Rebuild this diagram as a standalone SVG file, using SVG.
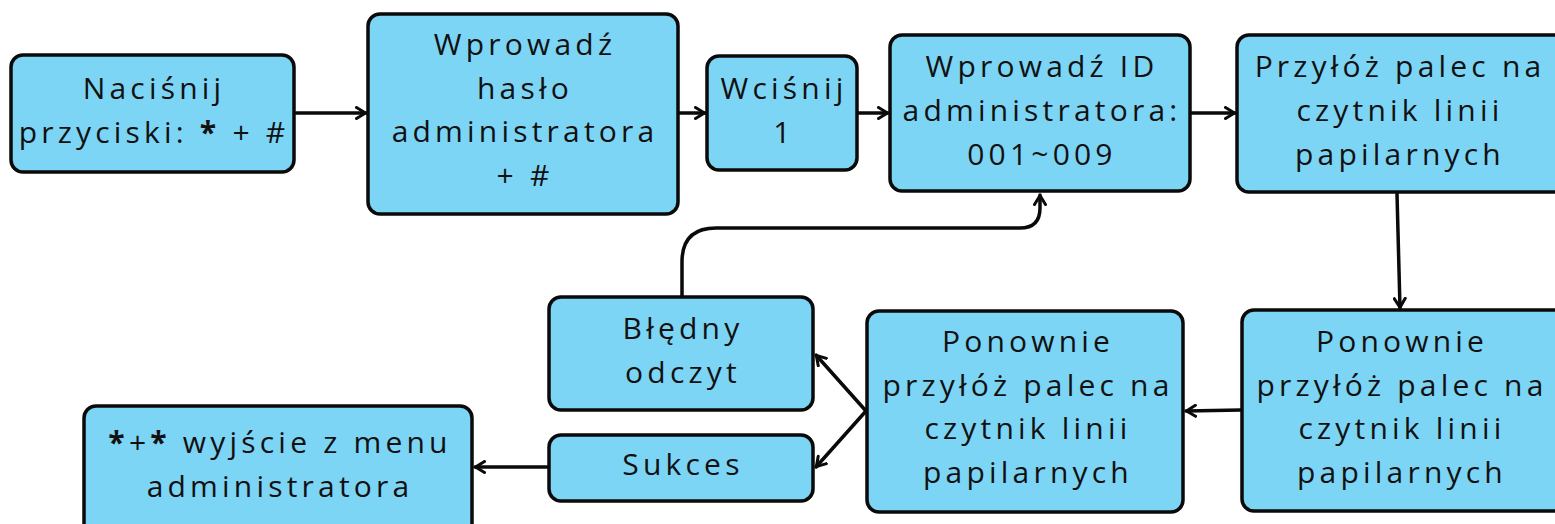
<svg xmlns="http://www.w3.org/2000/svg" width="1555" height="524" viewBox="0 0 1555 524">
<style>
.box{fill:#7dd5f5;stroke:#0a0a0a;stroke-width:3.5}
.t{font-family:"Open Sans","DejaVu Sans",sans-serif;font-size:30px;fill:#111;text-anchor:middle;letter-spacing:4.2px}
.b{font-weight:700}
.c{fill:none;stroke:#0a0a0a;stroke-width:3.5;stroke-linecap:round;stroke-linejoin:round}
</style>
<defs>
<marker id="ah" viewBox="0 0 12 14" refX="11" refY="7" markerWidth="12" markerHeight="14" markerUnits="userSpaceOnUse" orient="auto">
<path d="M1.5,1.5 L10.5,7 L1.5,12.5" fill="none" stroke="#0a0a0a" stroke-width="3" stroke-linecap="round" stroke-linejoin="round"/>
</marker>
</defs>
<rect width="1555" height="524" fill="#fff"/>
<g id="connectors">
<path class="c" d="M296,113 H366" marker-end="url(#ah)"/>
<path class="c" d="M679,113 H705" marker-end="url(#ah)"/>
<path class="c" d="M858,113 H888" marker-end="url(#ah)"/>
<path class="c" d="M1191,113 H1235" marker-end="url(#ah)"/>
<path class="c" d="M1397,194 L1400,308" marker-end="url(#ah)"/>
<path class="c" d="M1241,410 L1186,411" marker-end="url(#ah)"/>
<path class="c" d="M866,411 L816,355" marker-end="url(#ah)"/>
<path class="c" d="M866,411 L816,467" marker-end="url(#ah)"/>
<path class="c" d="M548,467 H475" marker-end="url(#ah)"/>
<path class="c" d="M682,296 V262 Q682,228 716,228 H1020 Q1040,228 1040,208 V195" marker-end="url(#ah)"/>
</g>
<g id="n1"><rect class="box" x="11" y="55" width="283" height="117" rx="12"/>
<text class="t" x="154" y="99">Naciśnij</text><text class="t" x="154" y="143">przyciski: <tspan class="b">*</tspan> + #</text></g>
<g id="n2"><rect class="box" x="368" y="14" width="310" height="200" rx="12"/>
<text class="t" x="525" y="55">Wprowadź</text><text class="t" x="525" y="99">hasło</text><text class="t" x="525" y="142">administratora</text><text class="t" x="525" y="186">+ #</text></g>
<g id="n3"><rect class="box" x="707" y="56" width="150" height="114" rx="12"/>
<text class="t" x="784" y="99">Wciśnij</text><text class="t" x="784" y="143">1</text></g>
<g id="n4"><rect class="box" x="890" y="35" width="300" height="156" rx="12"/>
<text class="t" x="1042" y="77">Wprowadź ID</text><text class="t" x="1042" y="121">administratora:</text><text class="t" x="1042" y="165">001~009</text></g>
<g id="n5"><rect class="box" x="1237" y="35" width="330" height="157" rx="12"/>
<text class="t" x="1400" y="77">Przyłóż palec na</text><text class="t" x="1400" y="121">czytnik linii</text><text class="t" x="1400" y="165">papilarnych</text></g>
<g id="n6"><rect class="box" x="1242" y="310" width="330" height="201" rx="12"/>
<text class="t" x="1402" y="352">Ponownie</text><text class="t" x="1402" y="396">przyłóż palec na</text><text class="t" x="1402" y="439">czytnik linii</text><text class="t" x="1402" y="483">papilarnych</text></g>
<g id="n7"><rect class="box" x="867" y="311" width="316" height="201" rx="12"/>
<text class="t" x="1028" y="352">Ponownie</text><text class="t" x="1028" y="396">przyłóż palec na</text><text class="t" x="1028" y="439">czytnik linii</text><text class="t" x="1028" y="483">papilarnych</text></g>
<g id="n8"><rect class="box" x="549" y="297" width="264" height="113" rx="12"/>
<text class="t" x="683" y="339">Błędny</text><text class="t" x="683" y="383">odczyt</text></g>
<g id="n9"><rect class="box" x="549" y="435" width="264" height="66" rx="12"/>
<text class="t" x="683" y="475">Sukces</text></g>
<g id="n10"><rect class="box" x="84" y="406" width="388" height="130" rx="12"/>
<text class="t" x="280" y="453"><tspan class="b">*</tspan>+<tspan class="b">*</tspan> wyjście z menu</text><text class="t" x="280" y="497">administratora</text></g>
</svg>
